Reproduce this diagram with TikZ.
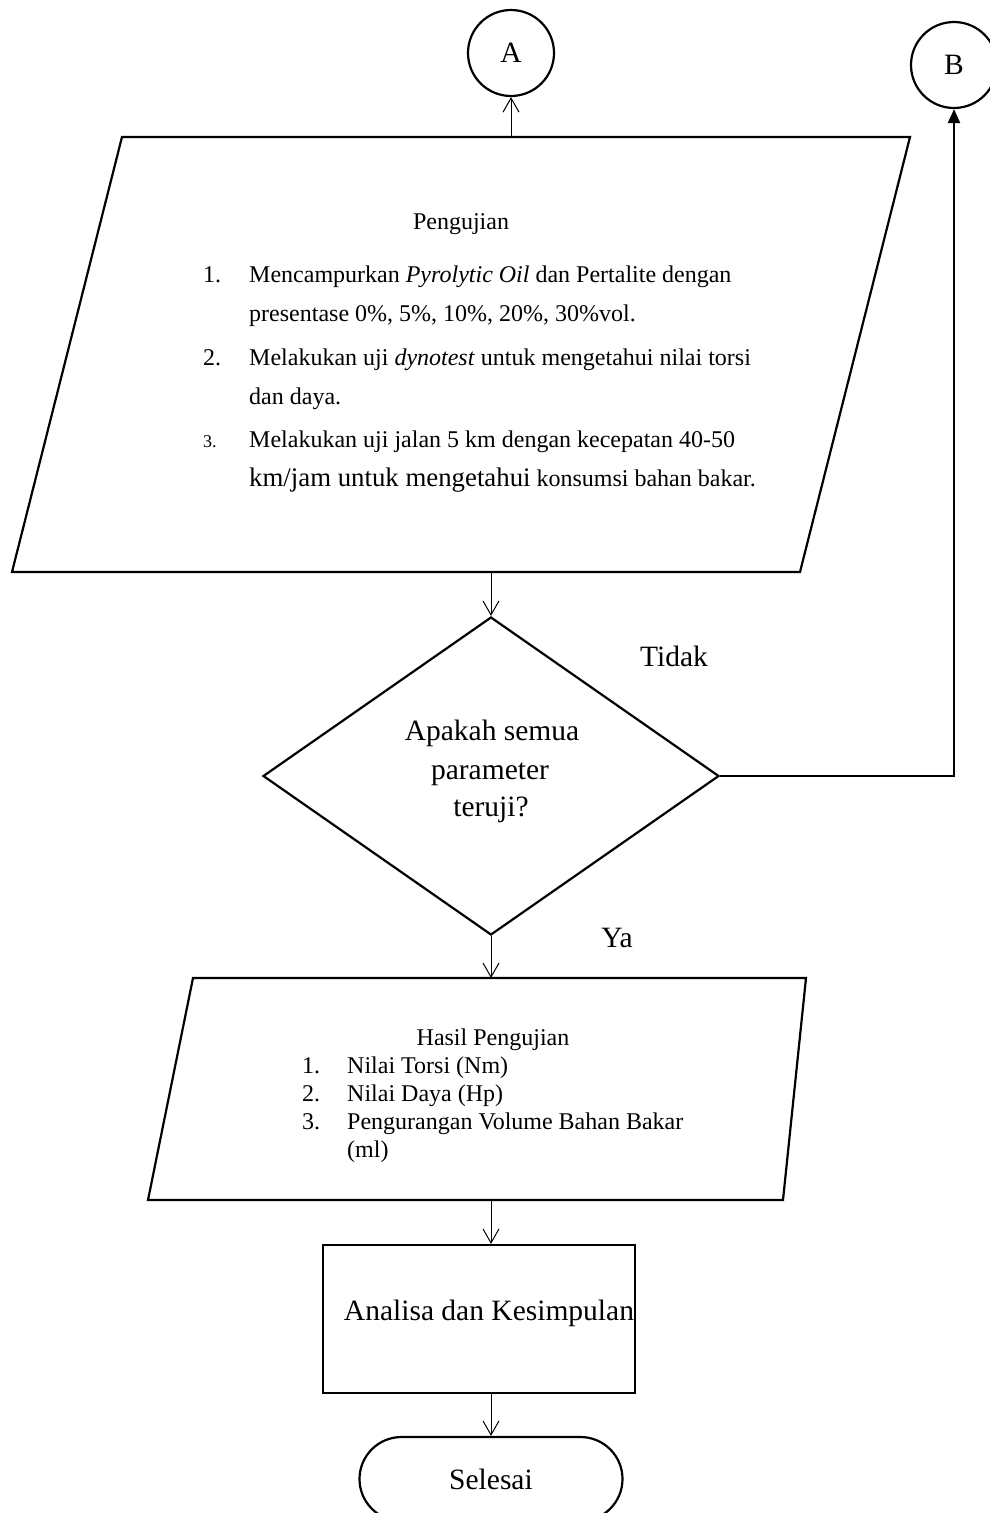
\documentclass[tikz,border=0pt]{standalone}
\usepackage{fontspec}
\setmainfont{Liberation Serif}
\usetikzlibrary{arrows.meta,shapes.geometric,shapes.misc}
\begin{document}
\begin{tikzpicture}[x=1pt,y=-1pt,
  outl/.style={draw,line width=2.2pt},
  thinarr/.style={line width=1pt,-{Straight Barb[length=14pt,width=16pt,line width=1pt]}},
  boldarr/.style={line width=2.2pt,-{Triangle[length=14pt,width=12pt]}},
  txt/.style={font=\fontsize{24}{28}\selectfont,inner sep=0pt},
  bigtxt/.style={font=\fontsize{29.5}{34}\selectfont,inner sep=0pt},
  ]
\useasboundingbox (0,0) rectangle (989,1513);

% connector circles
\node[outl,circle,bigtxt,minimum size=86pt] (A) at (511,53) {A};
\node[outl,circle,bigtxt,minimum size=86pt] (B) at (954,65) {B};

% input box 1
\draw[outl] (122,137) -- (910,137) -- (800,572) -- (12,572) -- cycle;
\coordinate (p1t) at (511,137);
\coordinate (p1b) at (491,572);
\node[txt,anchor=base] (t0) at (461,229) {Pengujian};
\node[txt,anchor=base west] (n1) at (203,282) {1.};
\node[txt,anchor=base west] (l1) at (249,282) {Mencampurkan \textit{Pyrolytic Oil} dan Pertalite dengan};
\node[txt,anchor=base west] (l1b) at (249,321) {presentase 0\%, 5\%, 10\%, 20\%, 30\%vol.};
\node[txt,anchor=base west] (n2) at (203,365) {2.};
\node[txt,anchor=base west] (l2) at (249,365) {Melakukan uji \textit{dynotest} untuk mengetahui nilai torsi};
\node[txt,anchor=base west] (l2b) at (249,404) {dan daya.};
\node[txt,anchor=base west,font=\fontsize{18}{22}\selectfont] (n3) at (203,447) {3.};
\node[txt,anchor=base west] (l3) at (249,447) {Melakukan uji jalan 5 km dengan kecepatan 40-50};
\node[txt,anchor=base west] (l3b) at (249,486) {{\fontsize{26.8}{30}\selectfont km/jam untuk mengetahui} konsumsi bahan bakar.};

% decision
\node[outl,diamond,minimum width=456pt,minimum height=318pt,inner sep=0pt] (D) at (491,776) {};
\node[bigtxt,anchor=base] (q1) at (492,740) {Apakah semua};
\node[bigtxt,anchor=base] (q2) at (490,779) {parameter};
\node[bigtxt,anchor=base] (q3) at (491,816) {teruji?};
\node[bigtxt,anchor=base] (tidak) at (674,666) {Tidak};
\node[bigtxt,anchor=base] (ya) at (617,947) {Ya};

% input box 2
\draw[outl] (193,978) -- (806,978) -- (783,1200) -- (148,1200) -- cycle;
\coordinate (p2t) at (491,978);
\coordinate (p2b) at (491,1200);
\node[txt,anchor=base] (h0) at (493,1045) {Hasil Pengujian};
\node[txt,anchor=base west] (hn1) at (302,1073) {1.};
\node[txt,anchor=base west] (h1) at (347,1073) {Nilai Torsi (Nm)};
\node[txt,anchor=base west] (hn2) at (302,1101) {2.};
\node[txt,anchor=base west] (h2) at (347,1101) {Nilai Daya (Hp)};
\node[txt,anchor=base west] (hn3) at (302,1129) {3.};
\node[txt,anchor=base west] (h3) at (347,1129) {Pengurangan Volume Bahan Bakar};
\node[txt,anchor=base west] (h3b) at (347,1157) {(ml)};

% process
\node[outl,minimum width=312pt,minimum height=148pt] (R) at (479,1319) {};
\node[bigtxt,anchor=base] (rt) at (489,1320) {Analisa dan Kesimpulan};

% terminal
\node[outl,rounded rectangle,bigtxt,minimum width=263pt,minimum height=84pt] (S) at (491,1479) {Selesai};

% connectors
\draw[thinarr] (p1t) -- (A.south);
\draw[thinarr] (p1b) -- (D.north);
\draw[boldarr] (D.east) -| (B.south);
\draw[thinarr] (D.south) -- (p2t);
\draw[thinarr] (p2b) -- (p2b |- R.north);
\draw[thinarr] (S.north |- R.south) -- (S.north);
\end{tikzpicture}
\end{document}
